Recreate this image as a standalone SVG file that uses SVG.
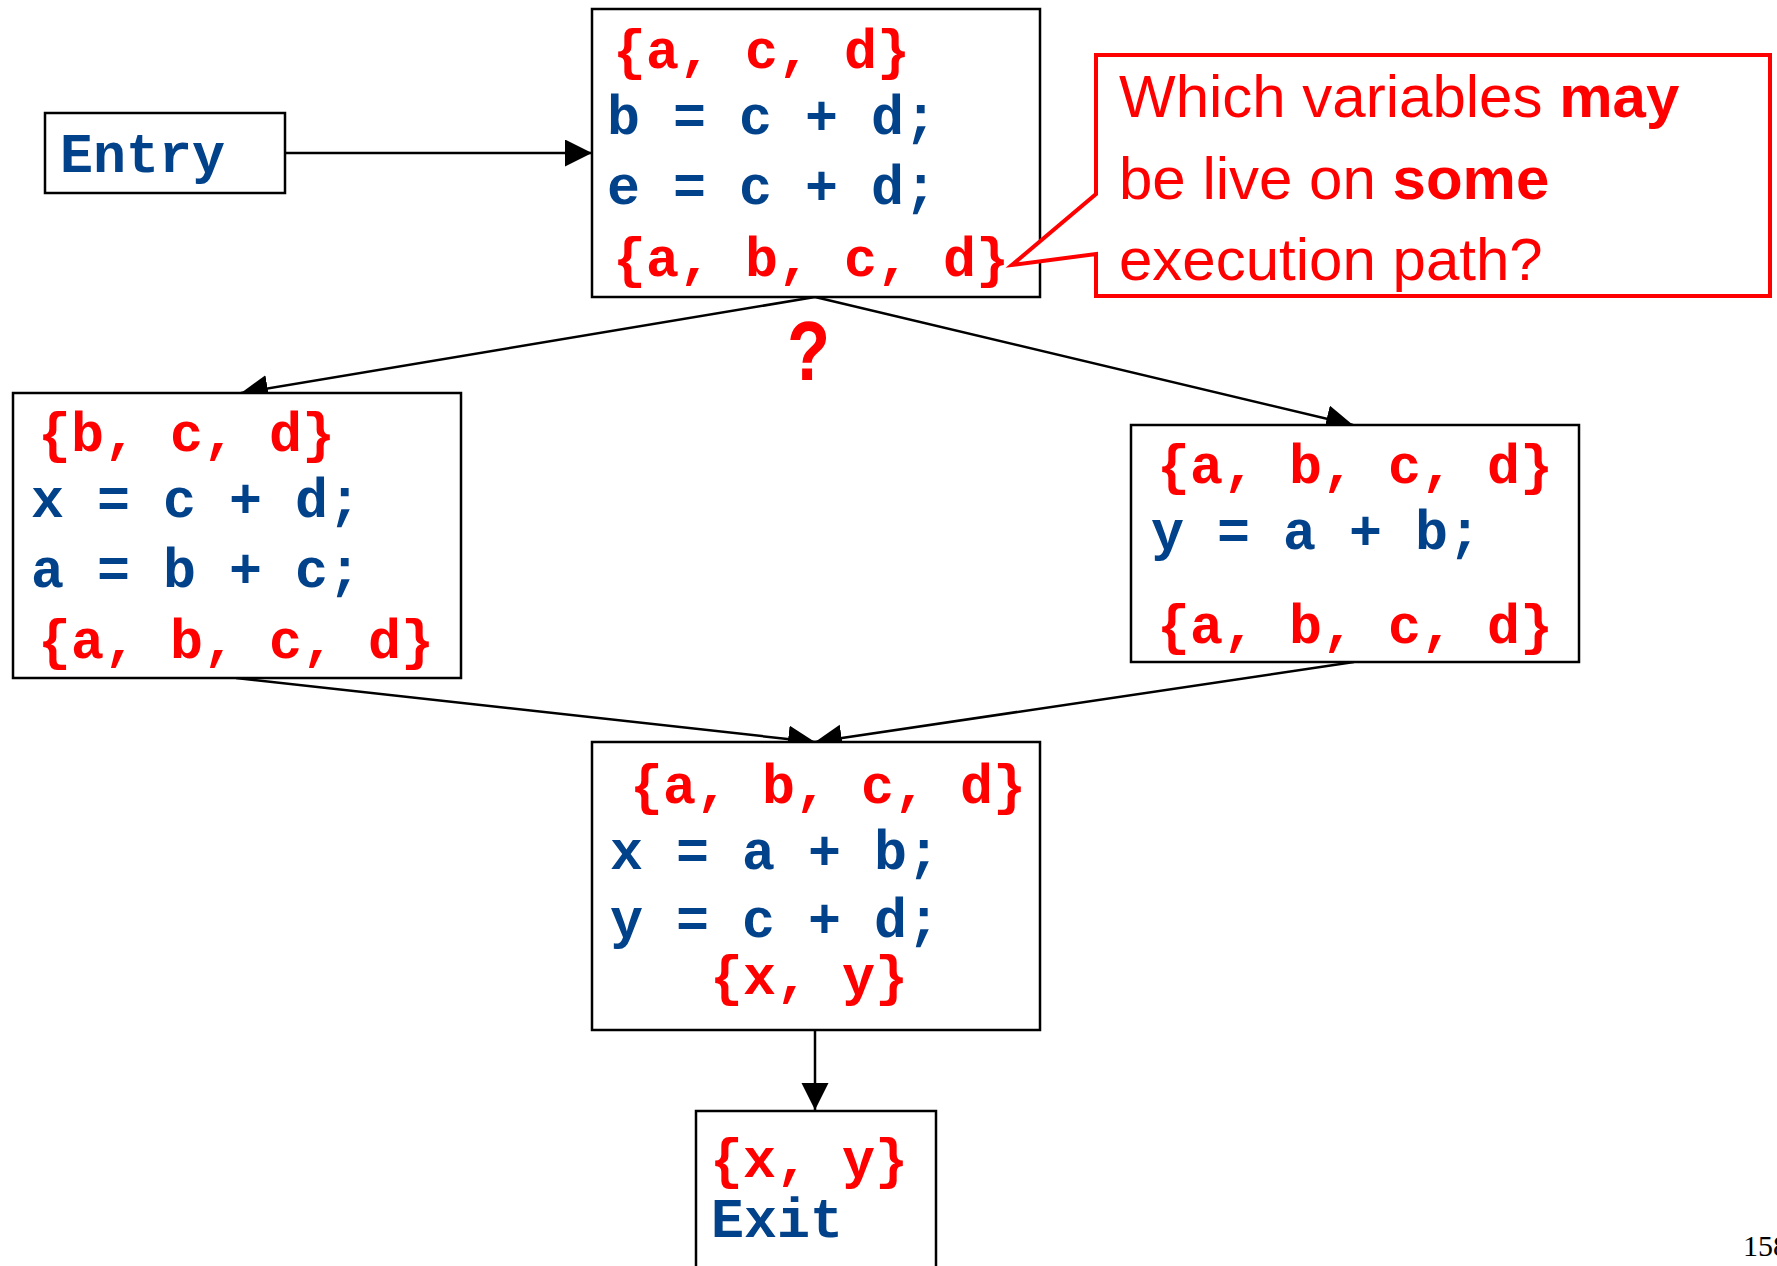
<svg xmlns="http://www.w3.org/2000/svg" width="1777" height="1266" viewBox="0 0 1777 1266">
<defs>
<style>
.box{fill:#fff;stroke:#000;stroke-width:2.5}
.code{font-family:"Liberation Mono","Courier New",monospace;font-weight:bold;font-size:55px}
.set{fill:#ff0000}
.stmt{fill:#02428a}
.edge{stroke:#000;stroke-width:2.5;fill:none;marker-end:url(#arr)}
.call{font-family:"Liberation Sans",Arial,sans-serif;font-size:60px;fill:#ff0000}
</style>
<marker id="arr" markerUnits="userSpaceOnUse" markerWidth="28" markerHeight="28" refX="27" refY="13.5" orient="auto" viewBox="0 0 28 28">
<path d="M0,0 L27,13.5 L0,27 z" fill="#000"/>
</marker>
</defs>
<rect width="1777" height="1266" fill="#fff"/>
<g id="connectors">
<line class="edge" x1="285" y1="153" x2="592" y2="153"/>
<line class="edge" x1="815" y1="297" x2="241" y2="393"/>
<line class="edge" x1="815" y1="297" x2="1353" y2="425"/>
<line class="edge" x1="236" y1="678" x2="815" y2="742"/>
<line class="edge" x1="1354" y1="662" x2="815" y2="742"/>
<line class="edge" x1="815" y1="1030" x2="815" y2="1110"/>
</g>
<g id="entry">
<rect class="box" x="45" y="113" width="240" height="80"/>
<text class="code stmt" x="60" y="172">Entry</text>
</g>
<g id="top-block">
<rect class="box" x="592" y="9" width="448" height="288"/>
<text class="code set" x="613" y="68">{a, c, d}</text>
<text class="code stmt" x="607" y="134">b = c + d;</text>
<text class="code stmt" x="607" y="204">e = c + d;</text>
<text class="code set" x="613" y="276">{a, b, c, d}</text>
</g>
<g id="question">
<text transform="scale(0.8,1)" x="1011" y="380" text-anchor="middle" font-family="Liberation Mono,Courier New,monospace" font-weight="bold" font-size="88" fill="#ff0000">?</text>
</g>
<g id="callout">
<path d="M1096,55 H1770 V296 H1096 V254 L1012,265 L1096,194 Z" fill="#fff" stroke="#ff0000" stroke-width="4" stroke-linejoin="miter"/>
<text class="call" x="1119" y="117">Which variables <tspan font-weight="bold">may</tspan></text>
<text class="call" x="1119" y="199">be live on <tspan font-weight="bold">some</tspan></text>
<text class="call" x="1119" y="280">execution path?</text>
</g>
<g id="left-block">
<rect class="box" x="13" y="393" width="448" height="285"/>
<text class="code set" x="38" y="451">{b, c, d}</text>
<text class="code stmt" x="31" y="517">x = c + d;</text>
<text class="code stmt" x="31" y="587">a = b + c;</text>
<text class="code set" x="38" y="658">{a, b, c, d}</text>
</g>
<g id="right-block">
<rect class="box" x="1131" y="425" width="448" height="237"/>
<text class="code set" x="1157" y="483">{a, b, c, d}</text>
<text class="code stmt" x="1151" y="549">y = a + b;</text>
<text class="code set" x="1157" y="643">{a, b, c, d}</text>
</g>
<g id="merge-block">
<rect class="box" x="592" y="742" width="448" height="288"/>
<text class="code set" x="630" y="803">{a, b, c, d}</text>
<text class="code stmt" x="610" y="869">x = a + b;</text>
<text class="code stmt" x="610" y="937">y = c + d;</text>
<text class="code set" x="710" y="994">{x, y}</text>
</g>
<g id="exit">
<rect class="box" x="696" y="1111" width="240" height="200"/>
<text class="code set" x="710" y="1177">{x, y}</text>
<text class="code stmt" x="711" y="1237">Exit</text>
</g>
<text x="1743" y="1256" font-family="Liberation Serif,Times New Roman,serif" font-size="30" fill="#000">158</text>
</svg>
